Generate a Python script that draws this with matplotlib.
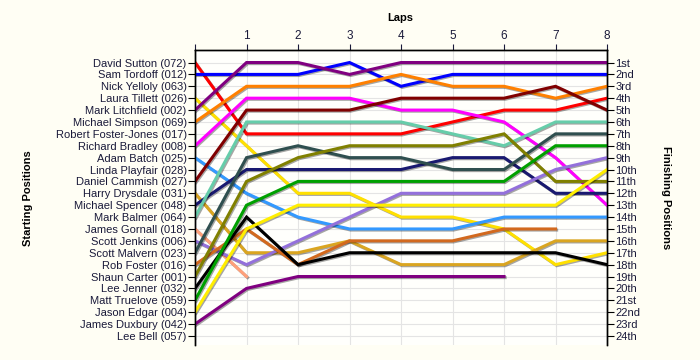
import numpy as np
import matplotlib
matplotlib.use("Agg")
import matplotlib.pyplot as plt
import matplotlib.patheffects as pe

# starting grid, top to bottom
drivers = ["David Sutton (072)", "Sam Tordoff (012)", "Nick Yelloly (063)",
           "Laura Tillett (026)", "Mark Litchfield (002)", "Michael Simpson (069)",
           "Robert Foster-Jones (017)", "Richard Bradley (008)", "Adam Batch (025)",
           "Linda Playfair (028)", "Daniel Cammish (027)", "Harry Drysdale (031)",
           "Michael Spencer (048)", "Mark Balmer (064)", "James Gornall (018)",
           "Scott Jenkins (006)", "Scott Malvern (023)", "Rob Foster (016)",
           "Shaun Carter (001)", "Lee Jenner (032)", "Matt Truelove (059)",
           "Jason Edgar (004)", "James Duxbury (042)", "Lee Bell (057)"]

finish_labels = ["1st", "2nd", "3rd", "4th", "5th", "6th", "7th", "8th", "9th", "10th",
                 "11th", "12th", "13th", "14th", "15th", "16th", "17th", "18th", "19th",
                 "20th", "21st", "22nd", "23rd", "24th"]

laps = [0, 1, 2, 3, 4, 5, 6, 7, 8]

# position at each lap (lap 0 = grid), None = no lap data
sutton = [1, 7, 7, 7, 7, 6, 5, 5, 4]
tordoff = [2, 2, 2, 1, 3, 2, 2, 2, 2]
yelloly = None
tillett = [4, 8, 12, 12, 14, 14, 15, 18, 17]
litchfield = [5, 1, 1, 2, 1, 1, 1, 1, 1]
simpson = [6, 3, 3, 3, 2, 3, 3, 4, 3]
foster_jones = None
bradley = [8, 4, 4, 4, 5, 5, 6, 9, 13]
batch = [9, 12, 14, 15, 15, 15, 14, 14, 14]
playfair = None
cammish = [11, 5, 5, 5, 4, 4, 4, 3, 5]
drysdale = [12, 17, 17, 16, 18, 18, 18, 16, 16]
spencer = [13, 10, 10, 10, 10, 9, 9, 12, 12]
balmer = [14, 6, 6, 6, 6, 7, 8, 6, 6]
gornall = [15, 19]
jenkins = [16, 18, 16, 14, 12, 12, 12, 10, 9]
malvern = [17, 9, 8, 9, 9, 10, 10, 7, 7]
foster = [18, 15, 18, 16, 16, 16, 15, 15]
carter = [19, 11, 9, 8, 8, 8, 7, 11, 11]
jenner = [20, 14, 18, 17, 17, 17, 17, 17, 18]
truelove = [21, 13, 11, 11, 11, 11, 11, 8, 8]
edgar = [22, 15, 13, 13, 13, 13, 13, 13, 10]
duxbury = [23, 20, 19, 19, 19, 19, 19]
bell = None

series = [sutton, tordoff, yelloly, tillett, litchfield, simpson, foster_jones,
          bradley, batch, playfair, cammish, drysdale, spencer, balmer, gornall,
          jenkins, malvern, foster, carter, jenner, truelove, edgar, duxbury, bell]

colors = ["#ff0000", "#0000ff", None, "#ffe000", "#800080", "#ff8000", None,
          "#ff00ff", "#3399ff", None, "#800000", "#daa520", "#191970", "#66cdaa",
          "#ffa07a", "#9370db", "#2f4f4f", "#d2691e", "#808000", "#000000",
          "#00a000", "#ffee00", "#800080", None]

bg = "#fffef4"
txt = "#1a1a3a"
fam = ["Liberation Sans", "DejaVu Sans"]

fig = plt.figure(figsize=(7, 3.6), dpi=100, facecolor=bg)
ax = fig.add_axes([0.2786, 0.042, 0.5886, 0.819])
ax.set_facecolor("#fffffc")

shadow = [pe.SimpleLineShadow(offset=(0.8, -0.8), shadow_color="k", alpha=0.35), pe.Normal()]
for s, c in zip(series, colors):
    if s is None:
        continue
    ax.plot(laps[:len(s)], s, color=c, linewidth=2.2, solid_joinstyle="miter",
            path_effects=shadow, zorder=3)

ax.set_xlim(0, 8)
ax.set_ylim(24.75, -0.05)

ax.set_xticks(laps)
ax.set_xticklabels([""] + [str(l) for l in laps[1:]])
ax.xaxis.tick_top()
ax.tick_params(axis="x", length=4, labelsize=8.5, colors=txt, pad=2)

pos = np.arange(1, 25)
ax.set_yticks(pos)
ax.set_yticklabels(drivers, fontsize=8, color=txt)
ax.tick_params(axis="y", length=5, pad=1)

ax2 = ax.twinx()
ax2.set_ylim(ax.get_ylim())
ax2.set_yticks(pos)
ax2.set_yticklabels(finish_labels, fontsize=8, color=txt)
ax2.tick_params(axis="y", length=5, pad=1)

for a in (ax, ax2):
    a.spines["bottom"].set_visible(False)
    for sp in ("left", "right", "top"):
        a.spines[sp].set_linewidth(1.0)

ax.grid(True, color="#e4e4e4", linewidth=0.8, zorder=0)
ax.set_axisbelow(True)

for lab in ax.get_yticklabels() + ax2.get_yticklabels() + ax.get_xticklabels():
    lab.set_family(fam)

fig.text(0.572, 0.95, "Laps", ha="center", va="center", fontsize=8, fontweight="bold",
         family=fam)
fig.text(0.04, 0.45, "Starting Positions", ha="center", va="center", rotation=90,
         fontsize=8, fontweight="bold", family=fam)
fig.text(0.952, 0.45, "Finishing Positions", ha="center", va="center", rotation=-90,
         fontsize=8, fontweight="bold", family=fam)

fig.savefig("out.png", dpi=100, facecolor=bg)
